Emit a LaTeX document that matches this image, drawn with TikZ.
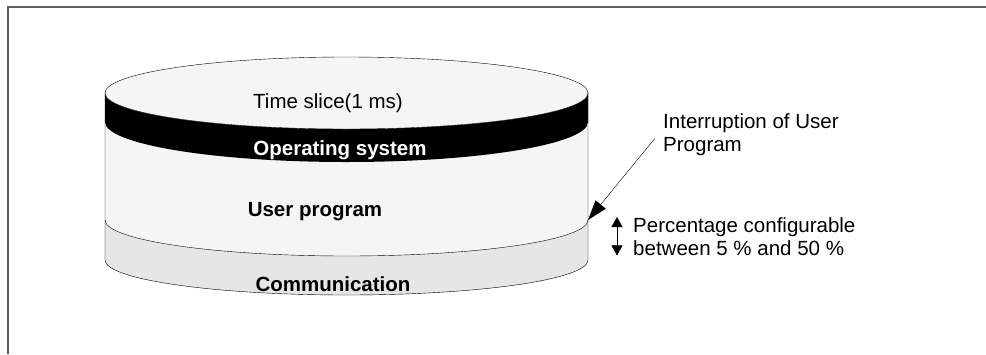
\documentclass[tikz,border=0pt]{standalone}
\usepackage{fontspec}
\setmainfont{Liberation Sans}
\usepackage{xcolor}
\usetikzlibrary{arrows.meta}

\definecolor{framegray}{RGB}{96,96,96}
\definecolor{topfill}{RGB}{245,245,245}
\definecolor{commfill}{RGB}{230,230,230}

\begin{document}
\begin{tikzpicture}[>=Stealth, x=1pt, y=1pt,
    lbl/.style={font=\fontsize{20.5}{23}\selectfont, inner sep=0pt},
    bold/.style={lbl, font=\fontsize{20.5}{23}\selectfont\bfseries}]
    \useasboundingbox (0,0) rectangle (986,-354);

    % frame
    \draw[framegray, line width=2pt] (8,-354) -- (8,-7) -- (986,-7);

    % communication ring
    \draw[commfill, fill=commfill] (105,-220) -- (105,-260)
        arc[start angle=180, end angle=360, x radius=241.5, y radius=35]
        -- (588,-220)
        arc[start angle=0, end angle=-180, x radius=241.5, y radius=36] -- cycle;
    % user program body
    \fill[topfill] (105,-93) -- (105,-220)
        arc[start angle=180, end angle=360, x radius=241.5, y radius=36]
        -- (588,-93) -- cycle;
    \draw (105,-93) -- (105,-260)
        arc[start angle=180, end angle=360, x radius=241.5, y radius=35]
        -- (588,-93);
    \draw (105,-220)
        arc[start angle=180, end angle=360, x radius=241.5, y radius=36];

    % operating system band
    \fill[black] (105,-93) -- (105,-122)
        arc[start angle=180, end angle=360, x radius=241.5, y radius=40]
        -- (588,-93)
        arc[start angle=0, end angle=-180, x radius=241.5, y radius=36] -- cycle;

    % top face
    \draw[fill=topfill] (346.5,-93) ellipse[x radius=241.5, y radius=36];

    % labels inside
    \node[lbl] (slice) at (328,-103) {Time slice(1 ms)};
    \node[bold, text=white] (os) at (340,-150) {Operating system};
    \node[bold] (user) at (315,-212) {User program};
    \node[bold] (comm) at (333,-284) {Communication};

    % interruption
    \coordinate (cut) at (588,-220);
    \node[lbl, anchor=north west, align=left] (irq) at (663,-113)
        {Interruption of User\\Program};
    \draw[-{Triangle[length=20pt, width=13pt]}] ([xshift=-8pt, yshift=-4pt]irq.west) -- (cut);

    % percentage
    \node[lbl, anchor=north west, align=left] (pct) at (633,-217)
        {Percentage configurable\\between 5 \% and 50 \%};
    \draw[{Triangle[length=10pt, width=11pt]}-{Triangle[length=10pt, width=11pt]}]
        ([xshift=-16pt]pct.north west) -- ([xshift=-16pt]pct.south west);
\end{tikzpicture}
\end{document}
